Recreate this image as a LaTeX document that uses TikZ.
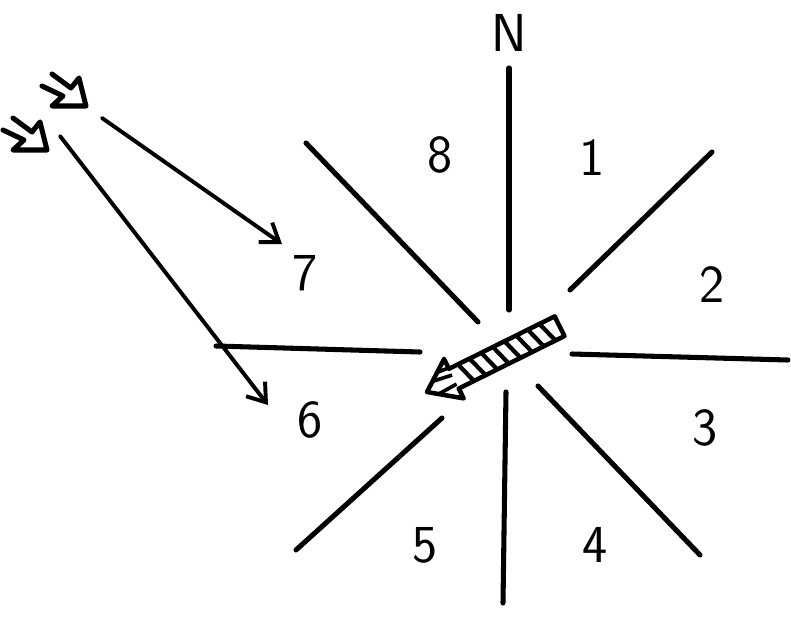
\documentclass[tikz,border=0pt]{standalone}
\usetikzlibrary{arrows.meta,calc}
\begin{document}
\begin{tikzpicture}[x=0.025cm,y=-0.025cm,
  ray/.style={line width=3.6pt,line cap=round},
  lab/.style={font=\sffamily\fontsize{38}{42}\selectfont,inner sep=0pt},
  sunarrow/.style={line width=2.8pt,line cap=round,-{Straight Barb[length=12pt,width=17pt,line width=2.8pt]}},
  icon/.style={line width=3.6pt,line cap=round,line join=round}]
\useasboundingbox (0,0) rectangle (791,633);
% compass rays
\coordinate (nA) at (509,68);  \coordinate (nB) at (509,310);
\coordinate (sA) at (506,392); \coordinate (sB) at (503,603);
\coordinate (neA) at (712,152); \coordinate (neB) at (570,290);
\coordinate (wA) at (216,346);  \coordinate (wB) at (420,352);
\coordinate (eA) at (572,354);  \coordinate (eB) at (788,360);
\coordinate (nwA) at (306,143); \coordinate (nwB) at (478,322);
\coordinate (swA) at (442,418); \coordinate (swB) at (296,550);
\coordinate (seA) at (538,386); \coordinate (seB) at (700,555);
\draw[ray] (nA) -- (nB);
\draw[ray] (sA) -- (sB);
\draw[ray] (neA) -- (neB);
\draw[ray] (wA) -- (wB);
\draw[ray] (eA) -- (eB);
\draw[ray] (nwA) -- (nwB);
\draw[ray] (swA) -- (swB);
\draw[ray] (seA) -- (seB);
% labels
\node[lab] (N) at (509,33) {N};
\node[lab] (l8) at (440,155) {8};
\node[lab] (l1) at (592,158) {1};
\node[lab] (l2) at (712,285) {2};
\node[lab] (l7) at (305,273) {7};
\node[lab] (l6) at (310,420) {6};
\node[lab] (l3) at (705,428) {3};
\node[lab] (l5) at (425,545) {5};
\node[lab] (l4) at (595,545) {4};
% sun arrows
\coordinate (a1s) at (102,118); \coordinate (a1e) at (282,244);
\coordinate (a2s) at (60,136);  \coordinate (a2e) at (268,405);
\draw[sunarrow] (a1s) -- (a1e);
\draw[sunarrow] (a2s) -- (a2e);
% small sun icons
\foreach \cx/\cy in {86/106, 47/150}{
  \draw[icon] ($(\cx,\cy)+(-34,-32)$) -- ($(\cx,\cy)+(-15,-18)$) -- ($(\cx,\cy)+(-7,-28)$)
     -- (\cx,\cy) -- ($(\cx,\cy)+(-34,0)$) -- ($(\cx,\cy)+(-23,-10)$) -- ($(\cx,\cy)+(-44,-20)$);
}
% hatched block arrow
\begin{scope}[shift={(427,392)},rotate=26.4]
  \draw[line width=3.2pt,line join=round,fill=white]
    (0,0) -- (30,-22) -- (30,-11) -- (148,-11) -- (148,11) -- (30,11) -- (30,22) -- cycle;
  \foreach \i in {40,53,...,140}{
    \draw[line width=3pt] (\i,-11) -- (\i+7,11);
  }
  \draw[line width=2.6pt] (10,-7) -- (30,-4);
  \draw[line width=2.6pt] (10,7) -- (30,6);
  \draw[line width=2.6pt] (18,-13) -- (30,-12);
\end{scope}
\end{tikzpicture}
\end{document}
